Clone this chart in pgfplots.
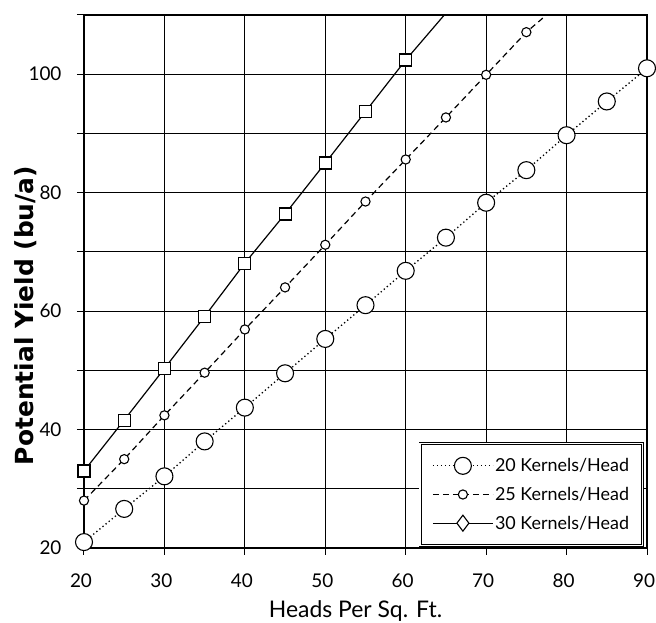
\documentclass[border=0pt]{standalone}
\usepackage{fontspec}
\setmainfont{Lato}
\newfontfamily\ylabfont{DejaVu Sans}
\usepackage{pgfplots}
\pgfplotsset{compat=1.18}

\begin{document}
\begin{tikzpicture}
\begin{axis}[
    name=ax,
    scale only axis,
    width=563bp, height=533bp,
    xmin=20, xmax=90, ymin=20, ymax=110,
    xtick={20,30,...,90},
    ytick={20,40,...,100},
    minor ytick={30,50,...,110},
    tick pos=left,
    tick align=outside,
    major tick length=7bp, minor tick length=7bp,
    tick style={black, line width=1bp},
    grid=both,
    major grid style={black, line width=1bp},
    minor grid style={black, line width=1bp},
    axis line style={line width=1.5bp},
    /pgf/number format/assume math mode=true,
    ticklabel style={font=\fontsize{19}{23}\selectfont},
    yticklabel style={xshift=-12bp},
    xticklabel style={yshift=-15bp, xshift=-3bp},
    xlabel={Heads Per Sq. Ft.},
    xlabel style={font=\fontsize{23}{26}\selectfont, yshift=-6bp, xshift=-10bp},
    ylabel={Potential Yield (bu/a)},
    ylabel style={at={(ticklabel cs:0.436)}, anchor=near ticklabel,
        font=\ylabfont\bfseries\fontsize{25}{28}\selectfont, yshift=-15bp},
    legend cell align=left,
    legend style={at={(rel axis cs:1,0)}, anchor=south east, xshift=-4bp, yshift=2bp,
        draw=black, double, line width=0.9bp, double distance=1.6bp, fill=white,
        font=\fontsize{18}{20}\selectfont, row sep=10bp,
        nodes={inner xsep=1.5bp},
        inner xsep=12bp, inner ysep=13bp},
    legend image code/.code={
        \draw[#1, mark=none] (0bp,0bp) -- (60bp,0bp);
        \draw[#1, solid] plot coordinates {(30bp,0bp)};},
]
% 20 kernels/head
\addplot[black, line width=1.3bp, dash pattern=on 1.3bp off 2.7bp,
    mark=*, mark size=8.5bp, mark options={solid, fill=white, draw=black, line width=1.1bp}]
  coordinates {(20,21.0) (25,26.6) (30,32.1) (35,38.0) (40,43.7) (45,49.5) (50,55.3)
    (55,61.0) (60,66.8) (65,72.4) (70,78.3) (75,83.8) (80,89.7) (85,95.4) (90,101.0)};
% 25 kernels/head
\addplot[black, line width=1.2bp, dash pattern=on 6bp off 4bp,
    mark=*, mark size=4.6bp, mark indices={1,...,12},
    mark options={solid, fill=white, draw=black, line width=1.1bp}]
  coordinates {(20,28.0) (25,35.0) (30,42.4) (35,49.6) (40,56.9) (45,64.0) (50,71.2)
    (55,78.5) (60,85.6) (65,92.7) (70,99.9) (75,107.1) (77.5,110)};
% 30 kernels/head
\addplot[black, line width=1.2bp,
    mark=square*, mark size=6bp, mark indices={1,...,9},
    mark options={solid, fill=white, draw=black, line width=1.1bp},
    legend image post style={mark=diamond*, mark size=8bp}]
  coordinates {(20,33.0) (25,41.6) (30,50.3) (35,59.1) (40,68.1) (45,76.4) (50,85.0)
    (55,93.7) (60,102.4) (64.8,110)};
\legend{20 Kernels/Head, 25 Kernels/Head, 30 Kernels/Head}
\end{axis}
\pgfresetboundingbox
\path[use as bounding box] ([xshift=-84bp, yshift=-75bp]ax.south west)
    rectangle ([xshift=9bp, yshift=15bp]ax.north east);
\end{tikzpicture}
\end{document}
